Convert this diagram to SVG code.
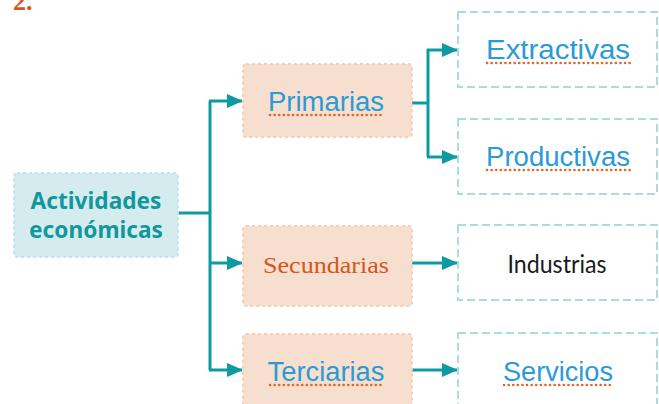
<svg xmlns="http://www.w3.org/2000/svg" width="659" height="404" viewBox="0 0 659 404">
<style>
.pink{fill:#f7dfcf;stroke:#f3d0bd;stroke-width:2;stroke-dasharray:3 3}
.cyan{fill:#ffffff;stroke:#a9dce1;stroke-width:2;stroke-dasharray:8 4}
.main{fill:#d5ecef;stroke:#c3e4e8;stroke-width:2;stroke-dasharray:3 3}
.hand{font-family:"Liberation Sans",Arial,sans-serif;font-size:27px;fill:#2b9ad6;text-anchor:middle}
.dots{stroke:#e0672a;stroke-width:2.6;stroke-dasharray:0.1 4.5;stroke-linecap:round;fill:none}
.conn{fill:none;stroke:#0e9aa1;stroke-width:3}
.big{font-family:"Noto Sans",sans-serif;font-weight:bold;font-size:23px;fill:#13979e;text-anchor:middle}
</style>
<defs>
<marker id="ah" markerWidth="16" markerHeight="14" refX="15" refY="7" orient="auto" markerUnits="userSpaceOnUse">
<path d="M0,0 L16,7 L0,14 Z" fill="#0e9aa1"/>
</marker>
</defs>
<text x="13" y="10" font-family="Liberation Serif,serif" font-weight="bold" font-size="26" fill="#d4561e">2.</text>
<g id="connectors">
<path class="conn" d="M178,213 H210"/>
<path class="conn" d="M210,101 V370"/>
<path class="conn" d="M209,101 H242" marker-end="url(#ah)"/>
<path class="conn" d="M210,263 H242" marker-end="url(#ah)"/>
<path class="conn" d="M209,370 H242" marker-end="url(#ah)"/>
<path class="conn" d="M412,103 H428"/>
<path class="conn" d="M428,49 V157"/>
<path class="conn" d="M427,50 H457" marker-end="url(#ah)"/>
<path class="conn" d="M427,157 H457" marker-end="url(#ah)"/>
<path class="conn" d="M412,263 H457" marker-end="url(#ah)"/>
<path class="conn" d="M412,370 H457" marker-end="url(#ah)"/>
</g>
<g id="actividades">
<rect class="main" x="14" y="173" width="164" height="84" rx="3"/>
<text class="big" x="96" y="209" textLength="131" lengthAdjust="spacingAndGlyphs">Actividades</text>
<text class="big" x="96" y="238" textLength="134" lengthAdjust="spacingAndGlyphs">económicas</text>
</g>
<g id="primarias">
<rect class="pink" x="243" y="64" width="169" height="73" rx="3"/>
<text class="hand" x="326" y="111" textLength="116" lengthAdjust="spacingAndGlyphs">Primarias</text>
<line class="dots" x1="270" y1="115" x2="384" y2="115"/>
</g>
<g id="secundarias">
<rect class="pink" x="243" y="226" width="169" height="80" rx="3"/>
<text x="326" y="273" font-family="Liberation Serif,serif" font-size="24" fill="#d4561e" text-anchor="middle" textLength="126" lengthAdjust="spacingAndGlyphs">Secundarias</text>
</g>
<g id="terciarias">
<rect class="pink" x="243" y="334" width="169" height="80" rx="3"/>
<text class="hand" x="326" y="381" textLength="117" lengthAdjust="spacingAndGlyphs">Terciarias</text>
<line class="dots" x1="270" y1="385" x2="385" y2="385"/>
</g>
<g id="extractivas">
<rect class="cyan" x="458" y="12" width="199" height="75"/>
<text class="hand" x="558" y="59" textLength="144" lengthAdjust="spacingAndGlyphs">Extractivas</text>
<line class="dots" x1="487" y1="63" x2="630" y2="63"/>
</g>
<g id="productivas">
<rect class="cyan" x="458" y="119" width="199" height="75"/>
<text class="hand" x="558" y="166" textLength="144" lengthAdjust="spacingAndGlyphs">Productivas</text>
<line class="dots" x1="487" y1="170" x2="630" y2="170"/>
</g>
<g id="industrias">
<rect class="cyan" x="458" y="225" width="199" height="75"/>
<text x="557" y="273" font-family="Lato,Noto Sans,sans-serif" font-size="25" fill="#1a1a1a" text-anchor="middle" textLength="99" lengthAdjust="spacingAndGlyphs">Industrias</text>
</g>
<g id="servicios">
<rect class="cyan" x="458" y="333" width="199" height="80"/>
<text class="hand" x="558" y="381" textLength="110" lengthAdjust="spacingAndGlyphs">Servicios</text>
<line class="dots" x1="504" y1="385" x2="613" y2="385"/>
</g>
</svg>
